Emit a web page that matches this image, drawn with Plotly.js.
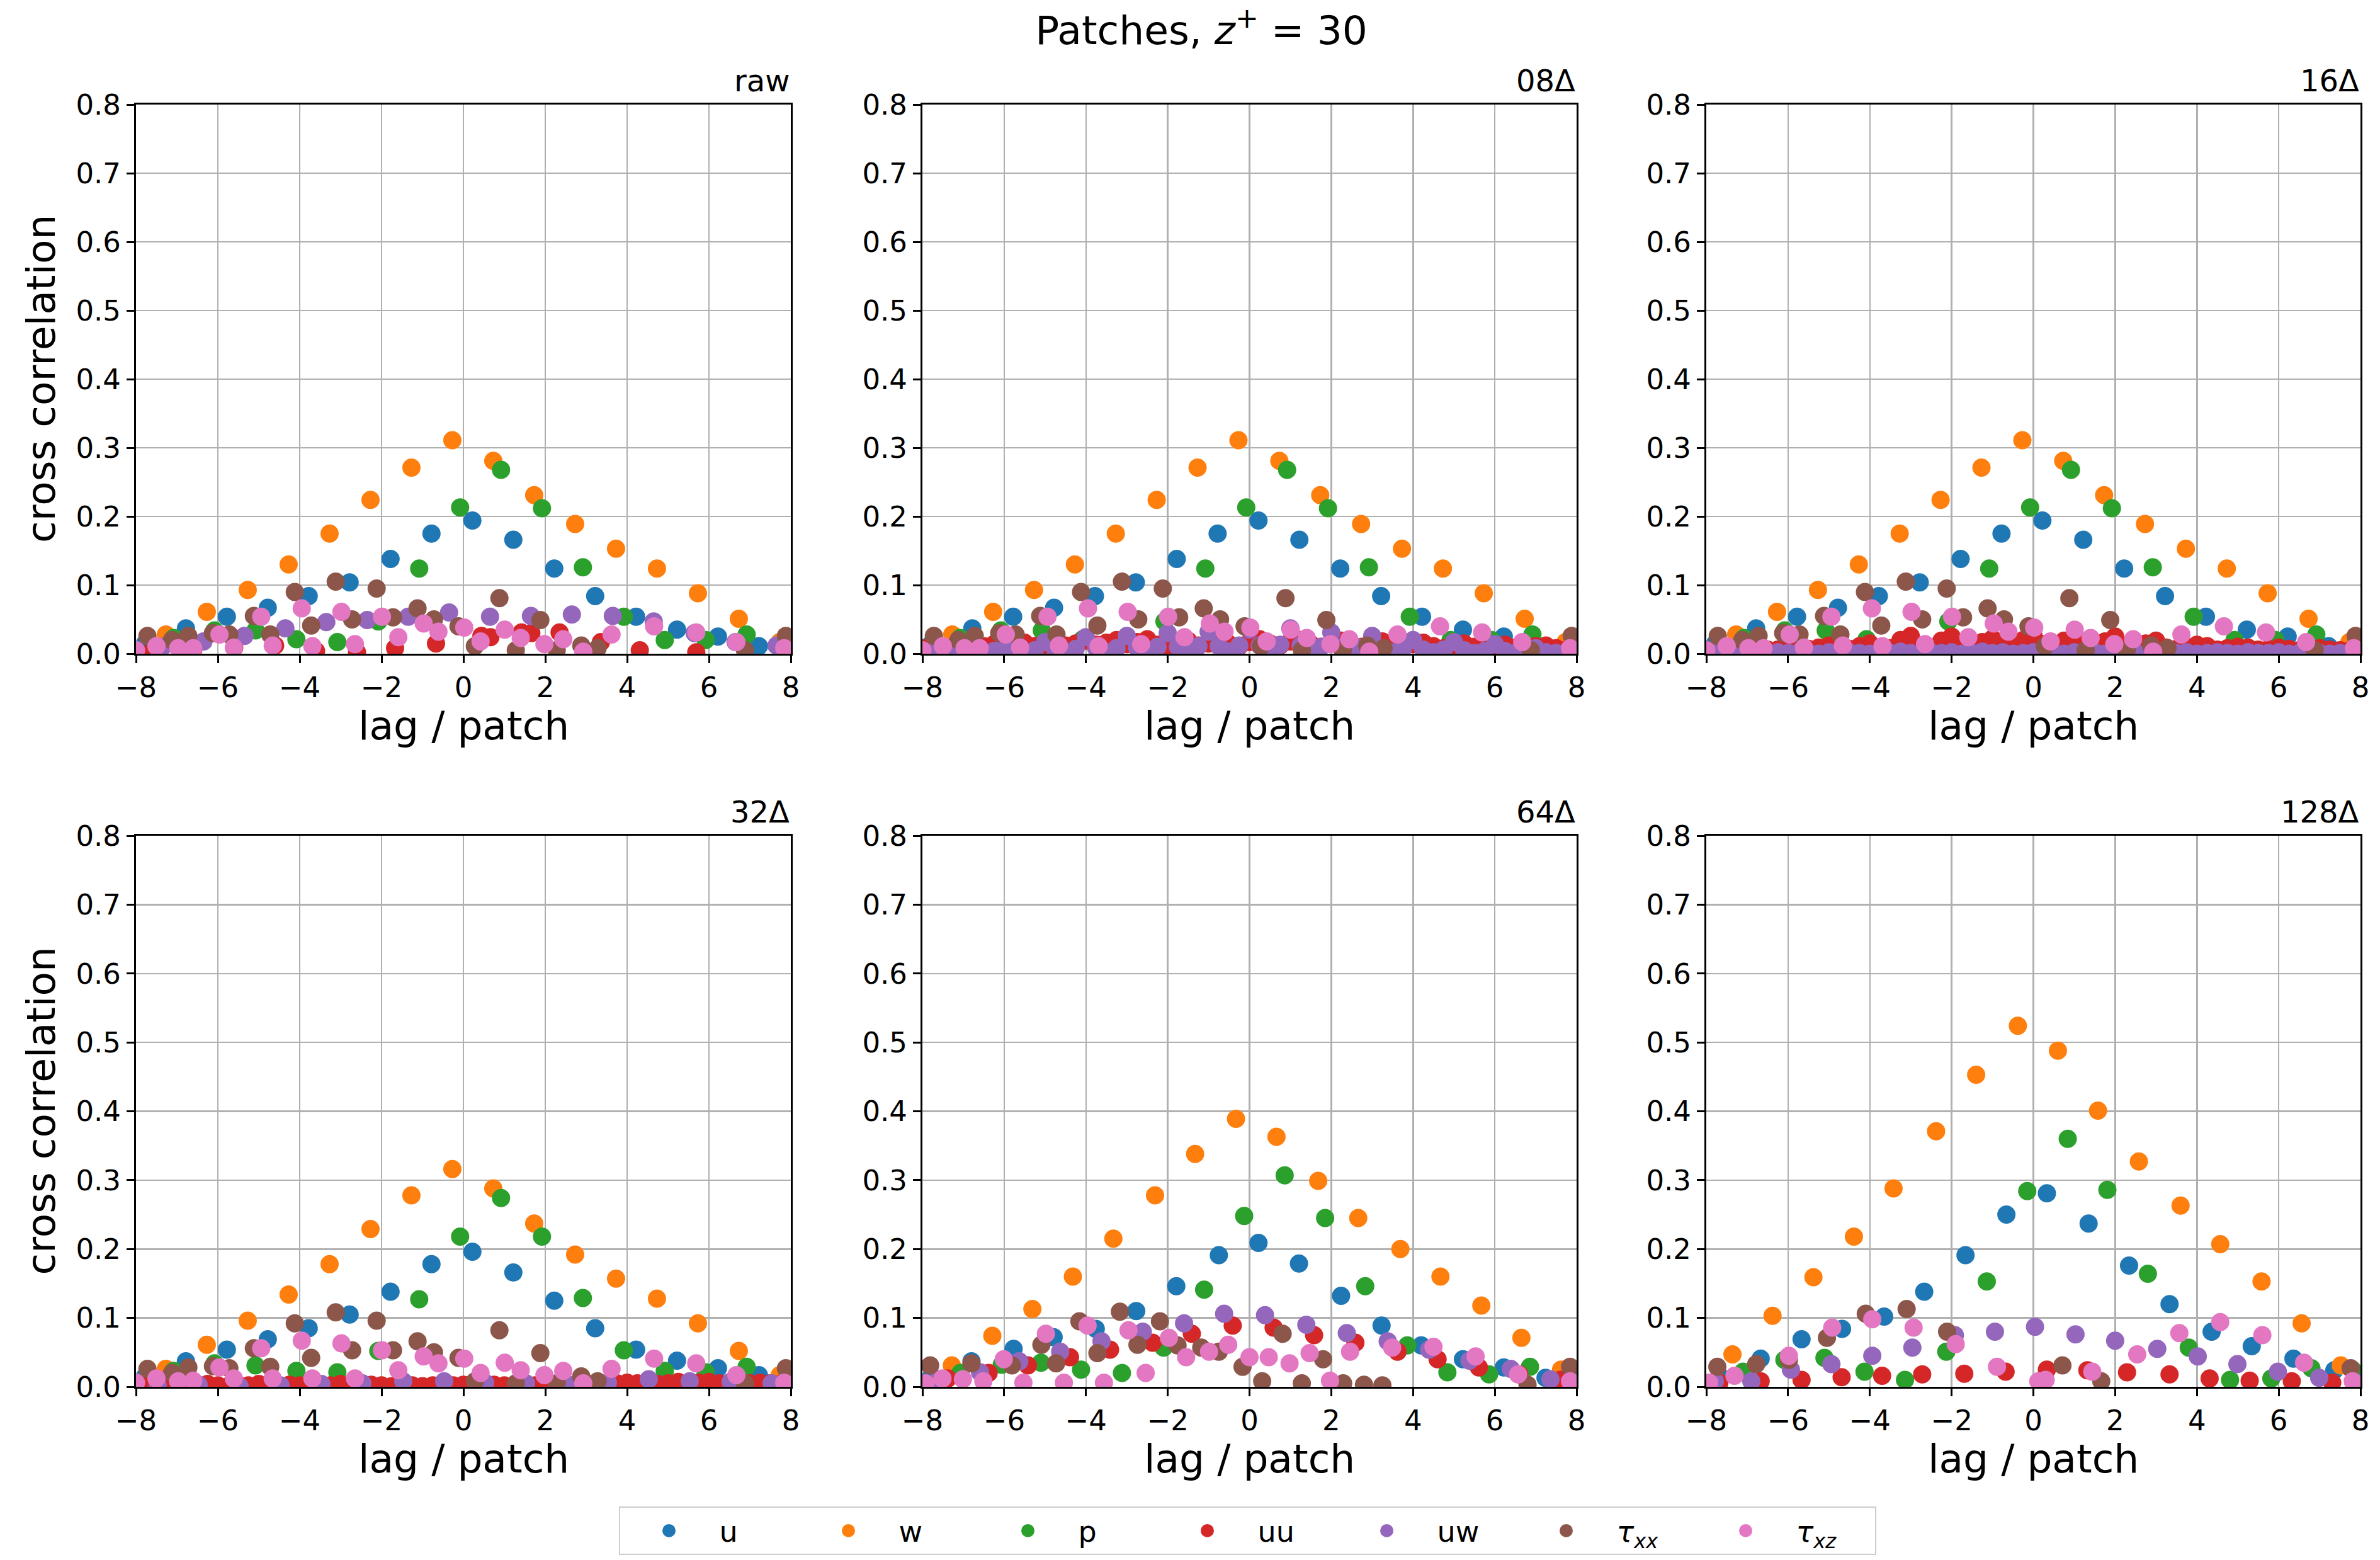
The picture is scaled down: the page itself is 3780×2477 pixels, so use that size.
<!DOCTYPE html>
<html><head><meta charset="utf-8">
<script src="https://cdn.plot.ly/plotly-3.0.1.min.js"></script>
<style>html,body{margin:0;padding:0;background:#fff}</style>
</head><body><div id="chart" style="width:3780px;height:2477px"></div>
<script>
// ---------- data ----------
const SERIES_NAMES = ['u', 'w', 'p', 'uu', 'uw', '<i>τ</i><sub><i>xx</i></sub>', '<i>τ</i><sub><i>xz</i></sub>'];
const PANEL_TITLES = ['raw', '08Δ', '16Δ', '32Δ', '64Δ', '128Δ'];

// shared lag positions (panels raw / 08Δ / 16Δ / 32Δ)
const U_X_A = [-7.78,-6.78,-5.78,-4.78,-3.78,-2.78,-1.78,-0.78,0.22,1.22,2.22,3.22,4.22,5.22,6.22,7.22];
const W_X_A = [-7.27,-6.27,-5.27,-4.27,-3.27,-2.27,-1.27,-0.27,0.73,1.73,2.73,3.73,4.73,5.73,6.73,7.73];
const P_X_A = [-7.08,-6.08,-5.08,-4.08,-3.08,-2.08,-1.08,-0.08,0.92,1.92,2.92,3.92,4.92,5.92,6.92,7.92];
const TXX_X_A = [-7.72,-7.12,-6.72,-6.12,-5.72,-5.12,-4.72,-4.12,-3.72,-3.12,-2.72,-2.12,-1.72,-1.12,-0.72,-0.12,0.28,0.88,1.28,1.88,2.28,2.88,3.28,6.88,7.88];
const TXZ_X_A = [-8.0,-7.5,-6.97,-6.6,-5.96,-5.61,-4.94,-4.66,-3.95,-3.69,-2.98,-2.65,-1.99,-1.59,-0.97,-0.61,0.02,0.42,1.01,1.40,1.98,2.44,2.93,3.62,4.66,5.69,6.67,7.84];
const FINE_LAG = [-8,-7.75,-7.5,-7.25,-7,-6.75,-6.5,-6.25,-6,-5.75,-5.5,-5.25,-5,-4.75,-4.5,-4.25,-4,-3.75,-3.5,-3.25,-3,-2.75,-2.5,-2.25,-2,-1.75,-1.5,-1.25,-1,-0.75,-0.5,-0.25,0,0.25,0.5,0.75,1,1.25,1.5,1.75,2,2.25,2.5,2.75,3,3.25,3.5,3.75,4,4.25,4.5,4.75,5,5.25,5.5,5.75,6,6.25,6.5,6.75,7,7.25,7.5,7.75,8];

// raw / 08Δ / 16Δ values of u, w, p, tau
const U_Y_A = [0.015,0.037,0.054,0.067,0.084,0.104,0.138,0.175,0.194,0.166,0.124,0.084,0.054,0.035,0.025,0.011];
const W_Y_A = [0.028,0.061,0.093,0.130,0.175,0.224,0.271,0.311,0.281,0.231,0.189,0.153,0.124,0.088,0.051,0.017];
const P_Y_A = [0.023,0.034,0.034,0.021,0.017,0.047,0.124,0.213,0.268,0.212,0.126,0.054,0.020,0.020,0.028,0.015];
const TXX_Y_A = [0.026,0.020,0.026,0.030,0.028,0.055,0.028,0.090,0.041,0.105,0.050,0.095,0.053,0.066,0.050,0.040,0.011,0.081,0.005,0.049,0.005,0.012,0.008,0.005,0.026];
const TXZ_Y_A = [0.005,0.011,0.008,0.008,0.028,0.009,0.054,0.012,0.066,0.011,0.061,0.014,0.054,0.024,0.044,0.032,0.038,0.018,0.035,0.023,0.014,0.021,0.003,0.028,0.040,0.031,0.017,0.008];

// raw: uu, uw
const UU_X_RAW = [-7.6,-6.6,-5.6,-4.6,-3.6,-2.6,-1.67,-0.67,0.44,0.66,1.42,1.66,2.35,3.36,4.31,5.69];
const UU_Y_RAW = [0.004,0.006,0.009,0.012,0.004,0.002,0.008,0.015,0.026,0.024,0.031,0.030,0.031,0.017,0.005,0.002];
const UW_X_RAW = [-7.35,-6.35,-5.35,-4.35,-3.35,-2.35,-1.35,-0.35,0.65,1.65,2.65,3.65,4.65,5.65,6.65,7.65];
const UW_Y_RAW = [0.010,0.018,0.026,0.037,0.046,0.049,0.054,0.060,0.054,0.055,0.057,0.055,0.047,0.030,0.017,0.012];

// 08Δ: uu, uw
const UU_Y_D08 = [0.008,0.010,0.006,0.009,0.012,0.008,0.011,0.014,0.010,0.012,0.016,0.011,0.013,0.017,0.012,0.015,0.019,0.013,0.016,0.020,0.014,0.017,0.021,0.013,0.010,0.016,0.019,0.012,0.015,0.020,0.014,0.011,0.017,0.021,0.015,0.012,0.018,0.020,0.014,0.010,0.016,0.019,0.013,0.010,0.015,0.018,0.012,0.009,0.014,0.016,0.011,0.008,0.013,0.015,0.010,0.007,0.012,0.013,0.009,0.006,0.011,0.012,0.008,0.006,0.010];
const UW_Y_D08 = [0.004,0.002,0.001,0.003,0.008,0.003,0.001,0.004,0.012,0.004,0.002,0.005,0.017,0.006,0.002,0.007,0.024,0.008,0.002,0.008,0.026,0.009,0.003,0.010,0.030,0.010,0.003,0.011,0.032,0.011,0.003,0.012,0.035,0.012,0.004,0.013,0.037,0.012,0.003,0.010,0.031,0.010,0.003,0.009,0.026,0.008,0.002,0.007,0.020,0.006,0.002,0.006,0.017,0.005,0.001,0.004,0.014,0.004,0.001,0.003,0.008,0.002,0.001,0.002,0.004];

// 16Δ: uu, uw
const UU_Y_D16 = [0.005,0.004,0.006,0.005,0.007,0.005,0.006,0.006,0.008,0.006,0.007,0.009,0.012,0.008,0.007,0.011,0.015,0.009,0.008,0.020,0.026,0.012,0.009,0.019,0.025,0.011,0.008,0.017,0.022,0.010,0.009,0.020,0.027,0.014,0.009,0.019,0.026,0.012,0.008,0.018,0.025,0.011,0.008,0.015,0.019,0.009,0.007,0.010,0.013,0.011,0.006,0.008,0.010,0.009,0.006,0.007,0.009,0.007,0.005,0.006,0.008,0.006,0.005,0.005,0.006];
const UW_Y_D16 = [0.001,0.002,0.000,0.001,0.002,0.001,0.000,0.002,0.001,0.002,0.001,0.000,0.002,0.001,0.002,0.001,0.000,0.002,0.001,0.003,0.001,0.000,0.002,0.001,0.002,0.000,0.001,0.003,0.001,0.002,0.000,0.001,0.002,0.003,0.001,0.000,0.002,0.001,0.002,0.000,0.001,0.002,0.001,0.000,0.002,0.001,0.001,0.002,0.000,0.001,0.002,0.001,0.000,0.002,0.001,0.001,0.002,0.000,0.001,0.002,0.001,0.000,0.001,0.002,0.001];

// 32Δ
const U_Y_D32 = [0.015,0.037,0.054,0.069,0.085,0.105,0.138,0.178,0.196,0.166,0.125,0.085,0.054,0.038,0.027,0.017];
const W_Y_D32 = [0.026,0.061,0.096,0.134,0.178,0.229,0.278,0.316,0.288,0.237,0.192,0.157,0.128,0.092,0.052,0.017];
const P_Y_D32 = [0.023,0.034,0.031,0.023,0.021,0.052,0.127,0.218,0.274,0.218,0.129,0.053,0.023,0.021,0.029,0.015];
const UU_Y_D32 = [0.002,0.003,0.001,0.002,0.003,0.001,0.002,0.004,0.002,0.001,0.003,0.002,0.004,0.002,0.001,0.003,0.002,0.003,0.001,0.002,0.004,0.002,0.001,0.003,0.002,0.001,0.003,0.002,0.001,0.002,0.003,0.002,0.003,0.002,0.004,0.003,0.002,0.003,0.004,0.002,0.003,0.004,0.002,0.003,0.005,0.004,0.003,0.005,0.006,0.005,0.006,0.004,0.005,0.007,0.005,0.006,0.007,0.005,0.006,0.007,0.005,0.006,0.005,0.004,0.005];
const UW_X_D32 = [-7.47,-6.47,-5.47,-4.47,-3.47,-2.47,-1.47,-0.47,0.53,1.53,2.53,3.53,4.53,5.53,6.53,7.53];
const UW_Y_D32 = [0.002,0.003,0.001,0.002,0.004,0.005,0.008,0.008,0.006,0.005,0.004,0.006,0.011,0.008,0.007,0.005];
const TXX_Y_D32 = [0.026,0.020,0.028,0.030,0.027,0.056,0.029,0.092,0.042,0.108,0.053,0.096,0.053,0.066,0.050,0.042,0.008,0.082,0.005,0.049,0.005,0.015,0.008,0.005,0.027];
const TXZ_Y_D32 = [0.006,0.012,0.008,0.009,0.028,0.012,0.056,0.012,0.067,0.012,0.063,0.012,0.053,0.024,0.044,0.034,0.041,0.020,0.035,0.024,0.017,0.023,0.005,0.026,0.041,0.034,0.017,0.006];

// 64Δ
const U_X_D64 = [-7.78,-6.80,-5.77,-4.79,-3.76,-2.77,-1.79,-0.75,0.22,1.21,2.24,3.23,4.20,5.22,6.22,7.24];
const U_Y_D64 = [0.015,0.037,0.055,0.072,0.084,0.110,0.146,0.191,0.209,0.179,0.132,0.089,0.060,0.040,0.028,0.013];
const W_X_D64 = [-7.28,-6.29,-5.31,-4.32,-3.33,-2.31,-1.33,-0.33,0.66,1.68,2.66,3.69,4.67,5.67,6.65,7.62];
const W_Y_D64 = [0.031,0.074,0.113,0.160,0.215,0.278,0.338,0.389,0.363,0.299,0.245,0.200,0.160,0.118,0.071,0.025];
const P_X_D64 = [-7.07,-6.06,-5.10,-4.12,-3.12,-2.10,-1.11,-0.13,0.86,1.85,2.83,3.86,4.84,5.86,6.86,7.88];
const P_Y_D64 = [0.020,0.032,0.035,0.025,0.020,0.057,0.141,0.248,0.307,0.245,0.146,0.060,0.021,0.018,0.029,0.020];
const UU_X_D64 = [-7.38,-6.38,-5.42,-4.39,-3.41,-2.37,-1.41,-0.41,0.59,1.58,2.59,3.62,4.60,5.61,6.60,7.60];
const UU_Y_D64 = [0.012,0.020,0.031,0.043,0.054,0.064,0.077,0.089,0.086,0.075,0.064,0.051,0.040,0.028,0.018,0.010];
const UW_X_D64 = [-7.60,-6.59,-5.63,-4.63,-3.62,-2.61,-1.60,-0.62,0.38,1.39,2.38,3.38,4.39,5.38,6.39,7.36];
const UW_Y_D64 = [0.011,0.021,0.037,0.051,0.066,0.080,0.092,0.106,0.104,0.090,0.078,0.066,0.054,0.038,0.026,0.011];
const TXX_X_D64 = [-7.81,-6.80,-5.81,-5.09,-4.73,-4.16,-3.72,-3.17,-2.74,-2.19,-1.76,-1.18,-0.75,-0.17,0.31,0.81,1.28,1.80,2.29,2.80,3.25,6.80,7.84];
const TXX_Y_D64 = [0.031,0.034,0.031,0.061,0.034,0.095,0.049,0.109,0.061,0.095,0.060,0.057,0.051,0.029,0.008,0.077,0.005,0.040,0.005,0.003,0.002,0.003,0.029];
const TXZ_X_D64 = [-7.92,-7.51,-7.01,-6.51,-6.01,-5.53,-4.98,-4.54,-3.96,-3.56,-2.96,-2.54,-1.97,-1.55,-0.99,-0.52,0.00,0.47,0.98,1.47,1.97,2.46,3.49,4.50,5.53,6.57,7.84];
const TXZ_Y_D64 = [0.005,0.012,0.011,0.008,0.040,0.006,0.077,0.006,0.089,0.006,0.082,0.020,0.071,0.043,0.051,0.061,0.043,0.043,0.034,0.049,0.009,0.051,0.057,0.058,0.044,0.018,0.008];

// 128Δ
const U_X_D128 = [-7.67,-6.67,-5.67,-4.68,-3.65,-2.67,-1.66,-0.66,0.33,1.35,2.34,3.33,4.36,5.34,6.36,7.36];
const U_Y_D128 = [0.015,0.041,0.069,0.084,0.102,0.138,0.191,0.250,0.281,0.237,0.176,0.120,0.080,0.059,0.041,0.024];
const W_X_D128 = [-7.36,-6.38,-5.38,-4.39,-3.42,-2.38,-1.40,-0.38,0.60,1.58,2.58,3.60,4.57,5.58,6.56,7.52];
const W_Y_D128 = [0.047,0.103,0.159,0.218,0.288,0.371,0.453,0.524,0.488,0.401,0.327,0.263,0.207,0.153,0.092,0.031];
const P_X_D128 = [-7.10,-6.09,-5.11,-4.13,-3.14,-2.13,-1.14,-0.15,0.84,1.81,2.80,3.80,4.81,5.82,6.80,7.80];
const P_Y_D128 = [0.022,0.039,0.042,0.022,0.010,0.051,0.153,0.284,0.360,0.286,0.164,0.057,0.010,0.012,0.027,0.025];
const UU_X_D128 = [-7.68,-6.67,-5.67,-4.69,-3.70,-2.72,-1.69,-0.68,0.33,1.32,2.29,3.33,4.31,5.29,6.32,7.31];
const UU_Y_D128 = [0.006,0.008,0.010,0.014,0.016,0.018,0.019,0.022,0.025,0.024,0.021,0.018,0.012,0.009,0.008,0.006];
const UW_X_D128 = [-7.79,-6.90,-5.93,-4.94,-3.94,-2.96,-1.92,-0.94,0.04,1.03,2.00,3.03,4.02,4.99,5.98,6.99,7.95];
const UW_Y_D128 = [0.008,0.008,0.025,0.033,0.045,0.057,0.075,0.080,0.087,0.076,0.067,0.055,0.044,0.033,0.022,0.013,0.005];
const TXX_X_D128 = [-7.73,-6.78,-5.98,-5.05,-4.10,-3.10,-2.11,0.71,1.66,7.76];
const TXX_Y_D128 = [0.029,0.033,0.039,0.071,0.106,0.113,0.080,0.031,0.008,0.027];
const TXZ_X_D128 = [-7.93,-7.31,-5.98,-4.92,-3.94,-2.93,-1.90,-0.89,0.12,0.30,1.44,2.54,3.57,4.57,5.60,6.62,7.81];
const TXZ_Y_D128 = [0.006,0.016,0.045,0.086,0.098,0.086,0.062,0.029,0.008,0.010,0.022,0.047,0.078,0.094,0.075,0.035,0.008];

// ---------- styling ----------
const COLORS = ['#1f77b4','#ff7f0e','#2ca02c','#d62728','#9467bd','#8c564b','#e377c2'];
const FONT = 'DejaVu Sans, Liberation Sans, sans-serif';
const W = 3780, H = 2477;
const COLS = [[216,1256],[1465,2504],[2710,3749]];
const ROWS = [[166,1038],[1327,2202]];

const PANEL_DATA = [
  [[U_X_A,U_Y_A],[W_X_A,W_Y_A],[P_X_A,P_Y_A],[UU_X_RAW,UU_Y_RAW],[UW_X_RAW,UW_Y_RAW],[TXX_X_A,TXX_Y_A],[TXZ_X_A,TXZ_Y_A]],
  [[U_X_A,U_Y_A],[W_X_A,W_Y_A],[P_X_A,P_Y_A],[FINE_LAG,UU_Y_D08],[FINE_LAG,UW_Y_D08],[TXX_X_A,TXX_Y_A],[TXZ_X_A,TXZ_Y_A]],
  [[U_X_A,U_Y_A],[W_X_A,W_Y_A],[P_X_A,P_Y_A],[FINE_LAG,UU_Y_D16],[FINE_LAG,UW_Y_D16],[TXX_X_A,TXX_Y_A],[TXZ_X_A,TXZ_Y_A]],
  [[U_X_A,U_Y_D32],[W_X_A,W_Y_D32],[P_X_A,P_Y_D32],[FINE_LAG,UU_Y_D32],[UW_X_D32,UW_Y_D32],[TXX_X_A,TXX_Y_D32],[TXZ_X_A,TXZ_Y_D32]],
  [[U_X_D64,U_Y_D64],[W_X_D64,W_Y_D64],[P_X_D64,P_Y_D64],[UU_X_D64,UU_Y_D64],[UW_X_D64,UW_Y_D64],[TXX_X_D64,TXX_Y_D64],[TXZ_X_D64,TXZ_Y_D64]],
  [[U_X_D128,U_Y_D128],[W_X_D128,W_Y_D128],[P_X_D128,P_Y_D128],[UU_X_D128,UU_Y_D128],[UW_X_D128,UW_Y_D128],[TXX_X_D128,TXX_Y_D128],[TXZ_X_D128,TXZ_Y_D128]]
];

const traces = [];
const layout = {
  width: W, height: H,
  margin: {l:0, r:0, t:0, b:0},
  paper_bgcolor: '#fff', plot_bgcolor: '#fff',
  font: {family: FONT, color: '#000', size: 45},
  showlegend: true,
  title: {text: 'Patches, <i>z</i><sup>+</sup> = 30', x: 1908/W, xanchor: 'center', y: 1 - 48/H, yanchor: 'middle', xref: 'paper', yref: 'paper', font: {family: FONT, size: 63, color: '#000'}},
  legend: {orientation: 'h', x: 1981/W, xanchor: 'center', y: 1 - 2392/H, yanchor: 'top',
           font: {family: FONT, size: 46, color: '#000'}, bgcolor: '#fff', bordercolor: '#cccccc', borderwidth: 2,
           entrywidth: 120, itemwidth: 150},
  annotations: []
};

for (let i = 0; i < 6; i++) {
  const n = i + 1;
  const col = COLS[i % 3], row = ROWS[Math.floor(i / 3)];
  const xd = [col[0] / W, col[1] / W];
  const yd = [1 - row[1] / H, 1 - row[0] / H];
  const common = {
    ticks: 'outside', ticklen: 12, tickwidth: 3, tickcolor: '#000',
    showline: true, linecolor: '#000', linewidth: 3, mirror: true,
    showgrid: true, gridcolor: '#b0b0b0', gridwidth: 2.5, zeroline: false,
    tickfont: {family: FONT, size: 45, color: '#000'}, fixedrange: true
  };
  layout['xaxis' + n] = Object.assign({}, common, {domain: xd, range: [-8, 8], tick0: 0, dtick: 2, anchor: 'y' + n});
  layout['yaxis' + n] = Object.assign({}, common, {domain: yd, range: [0, 0.8], tick0: 0, dtick: 0.1, tickformat: '.1f', anchor: 'x' + n});

  PANEL_DATA[i].forEach((d, s) => {
    traces.push({
      type: 'scatter', mode: 'markers', x: d[0], y: d[1],
      xaxis: 'x' + n, yaxis: 'y' + n,
      name: SERIES_NAMES[s], legendgroup: SERIES_NAMES[s], showlegend: i === 0,
      marker: {color: COLORS[s], size: 24, line: {width: 5, color: COLORS[s]}},
      cliponaxis: true, hoverinfo: 'skip'
    });
  });

  // panel title (right aligned)
  layout.annotations.push({text: PANEL_TITLES[i], xref: 'paper', yref: 'paper', x: col[1] / W, y: 1 - (row[0] - 38) / H,
    xanchor: 'right', yanchor: 'middle', showarrow: false, font: {family: FONT, size: 48, color: '#000'}});
  // x axis title
  layout.annotations.push({text: 'lag / patch', xref: 'paper', yref: 'paper', x: (col[0] + col[1]) / 2 / W, y: 1 - (row[1] + 114) / H,
    xanchor: 'center', yanchor: 'middle', showarrow: false, font: {family: FONT, size: 63, color: '#000'}});
  // y axis title (left column)
  if (i % 3 === 0) {
    layout.annotations.push({text: 'cross correlation', xref: 'paper', yref: 'paper', x: 65 / W, y: 1 - (row[0] + row[1]) / 2 / H,
      xanchor: 'center', yanchor: 'middle', textangle: -90, showarrow: false, font: {family: FONT, size: 63, color: '#000'}});
  }
}

Plotly.newPlot('chart', traces, layout, {staticPlot: true, displayModeBar: false});
</script></body></html>
